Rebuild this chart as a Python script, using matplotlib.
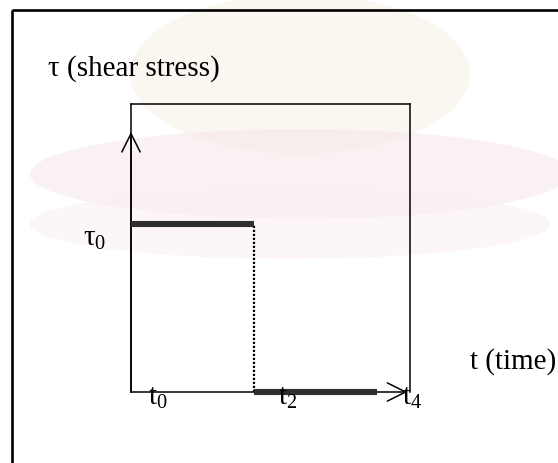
import matplotlib
matplotlib.use("Agg")
import matplotlib.pyplot as plt
from matplotlib.patches import Rectangle, Ellipse

plt.rcParams['font.family'] = ['Liberation Serif', 'DejaVu Serif']
plt.rcParams['mathtext.fontset'] = 'custom'
plt.rcParams['mathtext.rm'] = 'Liberation Serif'
plt.rcParams['mathtext.it'] = 'Liberation Serif:italic'

# Step load: constant shear stress tau0 up to the step time, zero afterwards
tau0 = 1.0
step_time = 4.0
end_time = 8.0
load_times = [0.0, step_time]
load_values = [tau0, tau0]
rest_times = [step_time, end_time]
rest_values = [0.0, 0.0]

# Labelled time instants along the time axis
tick_times = [0.0, 4.0, 8.0]
tick_labels = [r'$\mathrm{t}_\mathrm{0}$', r'$\mathrm{t}_\mathrm{2}$', r'$\mathrm{t}_\mathrm{4}$']
tick_offsets_px = [17, 24, 25]

y_label = 'τ (shear stress)'
x_label = 't (time)'
tau_label = r'$\mathrm{\tau}_\mathrm{0}$'

W, H = 558, 464
fig = plt.figure(figsize=(W / 100, H / 100), dpi=100)

# page layer in pixel coordinates
bg = fig.add_axes([0, 0, 1, 1])
bg.set_xlim(0, W)
bg.set_ylim(H, 0)
bg.axis('off')
bg.add_patch(Ellipse((300, 75), 340, 160, color='#f7f1e6', alpha=0.6, lw=0, zorder=0))
bg.add_patch(Ellipse((300, 175), 540, 90, color='#f8e8ec', alpha=0.6, lw=0, zorder=0))
bg.add_patch(Ellipse((290, 225), 520, 70, color='#faf0f3', alpha=0.6, lw=0, zorder=0))
bg.add_patch(Rectangle((12, 11), 700, 600, fill=False, lw=1.9, ec='black', zorder=3))
bg.text(48, 76, y_label, fontsize=21, ha='left', va='baseline', zorder=4)
bg.text(470, 369, x_label, fontsize=21, ha='left', va='baseline', zorder=4)

# plotting area
ax = fig.add_axes([131 / W, (H - 393) / H, (410 - 131) / W, (393 - 105) / H])
ax.patch.set_alpha(0)
ax.set_xlim(0, 279 / 30.7)
ax.set_ylim(0, tau0 * 288 / 168)
ax.set_xticks([])
ax.set_yticks([])
for side in ('left', 'top', 'right'):
    ax.spines[side].set_linewidth(1.1)
ax.spines['bottom'].set_visible(False)

arrow = dict(arrowstyle='->,head_length=0.6,head_width=0.3', lw=1.1, color='black',
             mutation_scale=22, shrinkA=0, shrinkB=0)
ax.annotate('', xy=(9.0, 0), xytext=(0, 0), arrowprops=arrow, annotation_clip=False)
ax.annotate('', xy=(0, tau0 * 1.548), xytext=(0, 0), arrowprops=arrow, annotation_clip=False)

ax.plot(load_times, load_values, color='#2f2f2f', lw=4.4, solid_capstyle='butt', clip_on=False, zorder=5)
ax.plot(rest_times, rest_values, color='#2f2f2f', lw=4.4, solid_capstyle='butt', clip_on=False, zorder=5)
ax.plot([step_time, step_time], [0, tau0], color='black', lw=1.6, ls=(0, (1, 0.8)), clip_on=False, zorder=4)

for t, lab, off in zip(tick_times, tick_labels, tick_offsets_px):
    ax.annotate(lab, xy=(t, 0), xytext=(off * 0.72, -12 * 0.72), textcoords='offset points',
                fontsize=21, ha='left', va='baseline', annotation_clip=False, zorder=6)

ax.annotate(tau_label, xy=(0, tau0), xytext=(-48 * 0.72, -21 * 0.72), textcoords='offset points',
            fontsize=21, ha='left', va='baseline', annotation_clip=False)

fig.savefig('out.png', dpi=100)
